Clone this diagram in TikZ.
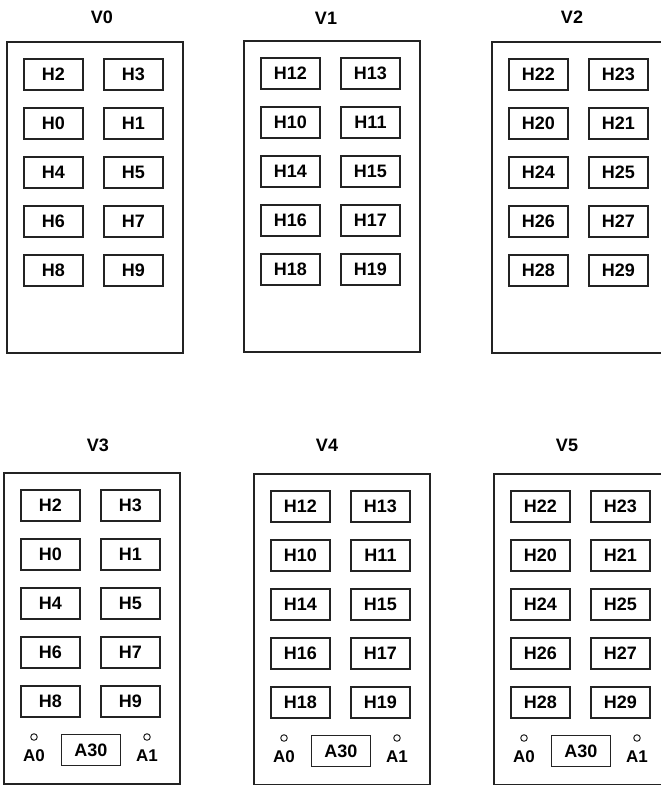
\documentclass[tikz,border=0pt]{standalone}
\usepackage{fontspec}
\setmainfont{Liberation Sans}
\usetikzlibrary{positioning}
\definecolor{PanelLine}{RGB}{35,35,35}

\begin{document}
\begin{tikzpicture}[
    x=1pt, y=-1pt,
    panel/.style={draw=PanelLine, line width=1.6pt, anchor=north west,
                  minimum width=176pt, minimum height=311pt, inner sep=0pt},
    hbox/.style={draw=PanelLine, line width=1.4pt, minimum width=59pt, minimum height=31pt,
                 inner sep=0pt, font=\bfseries\fontsize{18}{20}\selectfont},
    vtitle/.style={inner sep=0pt, font=\bfseries\fontsize{18}{20}\selectfont},
    hole/.style={draw=PanelLine, circle, line width=1pt, minimum size=6.5pt, inner sep=0pt},
    holelbl/.style={inner sep=0pt, font=\bfseries\fontsize{17}{19}\selectfont}
]
    \useasboundingbox (0,0) rectangle (661,785);
    \clip (0,0) rectangle (661,785);

    % one panel per unit; the bottom row has the A30 socket and two holes
    \foreach \name/\lbl/\px/\py/\tx/\ty/\base/\foot in {
        v0/V0/6/41/102/17/0/0, v1/V1/243/40/326/18/10/0, v2/V2/491/41/572/17/20/0,
        v3/V3/3/472/98/445/0/1, v4/V4/253/473/327/445/10/1, v5/V5/493/473/567/445/20/1} {
        \node[panel] (\name) at (\px,\py) {};
        \node[vtitle] (\name-t) at (\tx,\ty) {\lbl};
        \foreach \a/\b [count=\r from 0] in {2/3,0/1,4/5,6/7,8/9} {
            \node[hbox] (\name-h\a) at ({\px+47.5},{\py+33.5+49*\r}) {H\the\numexpr\base+\a\relax};
            \node[hbox] (\name-h\b) at ({\px+127.5},{\py+33.5+49*\r}) {H\the\numexpr\base+\b\relax};
        }
        \ifnum\foot=1
            \node[hbox] (\name-a30) at ({\px+88},{\py+278}) {A30};
            \node[hole] (\name-c0) at ({\px+31},{\py+265}) {};
            \node[hole] (\name-c1) at ({\px+144},{\py+265}) {};
            \node[holelbl, below=9pt of \name-c0] (\name-a0) {A0};
            \node[holelbl, below=9pt of \name-c1] (\name-a1) {A1};
        \fi
    }
\end{tikzpicture}
\end{document}
